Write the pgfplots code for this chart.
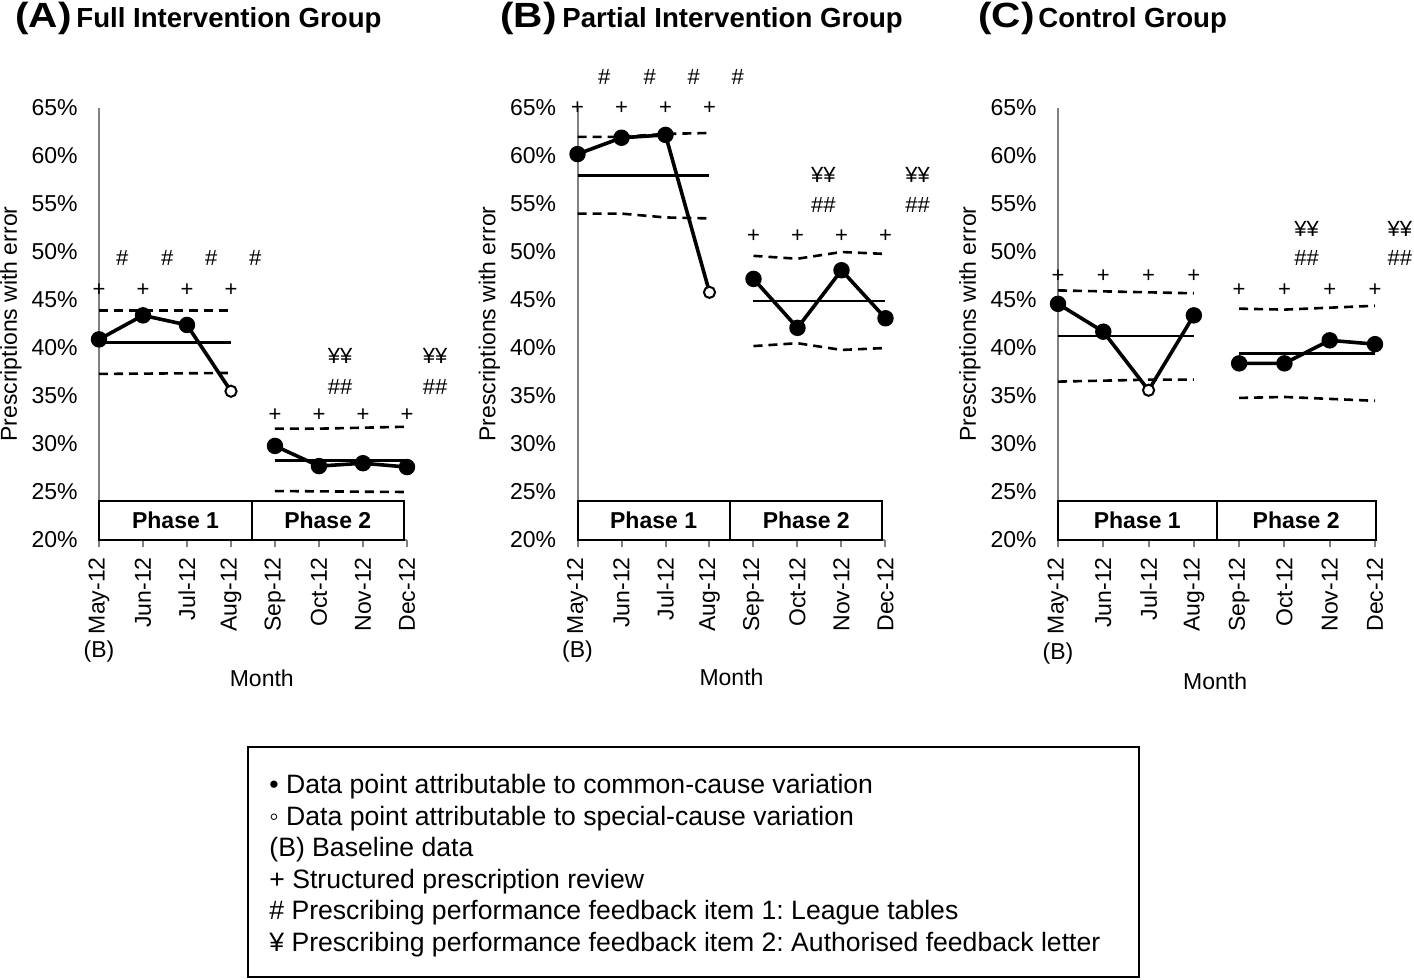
\documentclass[border=0pt]{standalone}
\usepackage{pgfplots}
\pgfplotsset{compat=1.18}
\usepackage{fontspec}
\setmainfont{Liberation Sans}
\usepackage{graphicx}
\frenchspacing

\newcommand{\fs}[1]{\fontsize{#1}{#1}\selectfont}

\pgfplotsset{
  spc/.style={
    scale only axis, width=154bp, height=216bp,
    xmin=0, xmax=7, ymin=20, ymax=65,
    clip=false,
    axis lines*=left,
    axis line style={-, draw=gray, line width=1bp},
    xtick={0,...,7},
    xticklabels={May-12,Jun-12,Jul-12,Aug-12,Sep-12,Oct-12,Nov-12,Dec-12},
    ytick={20,25,...,65},
    yticklabels={20\%,25\%,30\%,35\%,40\%,45\%,50\%,55\%,60\%,65\%},
    xtick align=outside, ytick align=inside,
    major tick length=3.5bp,
    xtick style={draw=gray, line width=1bp},
    ytick style={draw=none},
    xticklabel style={yshift=-5bp, rotate=90, anchor=east, inner sep=0pt, font=\fs{11.5bp}},
    yticklabel style={anchor=east, inner sep=0pt, xshift=-10.5bp, font=\fs{11.5bp}},
    ylabel={Prescriptions with error},
    ylabel style={at={(axis description cs:-0.2857,0.5)}, anchor=center, font=\fs{11.5bp}},
  },
  data/.style={black, line width=1.8bp, mark=*, mark size=3.2bp, mark options={solid, fill=black}},
  spec/.style={only marks, mark=*, mark size=2.8bp, mark options={solid, fill=white, draw=black, line width=1bp}},
  cl/.style={black, line width=1.3bp, no marks},
  lim/.style={black, line width=1.3bp, no marks, dash pattern=on 4.5bp off 3bp},
}
\tikzset{
  ann/.style={font=\fs{11bp}, inner sep=0pt, anchor=center},
  phs/.style={font=\fs{11.5bp}\bfseries, inner sep=0pt, anchor=center},
  txt/.style={font=\fs{11.5bp}, inner sep=0pt, anchor=center},
}

\begin{document}
\begin{tikzpicture}
\path[use as bounding box] (0,0) rectangle (707bp,-490bp);

% titles
\node[anchor=base west, inner sep=0pt] at (7.5bp,-13.5bp) {\scalebox{1.16}[1]{\fs{17.5bp}\bfseries (A)}};
\node[anchor=base west, inner sep=0pt] at (38bp,-13.5bp) {\fs{13.8bp}\bfseries Full Intervention Group};
\node[anchor=base west, inner sep=0pt] at (250bp,-13.5bp) {\scalebox{1.16}[1]{\fs{17.5bp}\bfseries (B)}};
\node[anchor=base west, inner sep=0pt] at (281bp,-13.5bp) {\fs{13.8bp}\bfseries Partial Intervention Group};
\node[anchor=base west, inner sep=0pt] at (489bp,-13.5bp) {\scalebox{1.16}[1]{\fs{17.5bp}\bfseries (C)}};
\node[anchor=base west, inner sep=0pt] at (519bp,-13.5bp) {\fs{13.8bp}\bfseries Control Group};

% (A) Full intervention
\begin{axis}[spc, at={(49.5bp,-270bp)}, anchor=south west]
\addplot[lim] coordinates {(0,43.9) (3,43.9)};
\addplot[lim] coordinates {(0,37.3) (3,37.4)};
\addplot[cl] coordinates {(0,40.6) (3,40.6)};
\addplot[data, mark indices={1,2,3}] coordinates {(0,40.9) (1,43.4) (2,42.4) (3,35.5)};
\addplot[spec] coordinates {(3,35.5)};
\addplot[lim] coordinates {(4,31.6) (5,31.6) (6,31.7) (7,31.8)};
\addplot[lim] coordinates {(4,25.1) (7,25.0)};
\addplot[cl] coordinates {(4,28.3) (7,28.3)};
\addplot[data] coordinates {(4,29.8) (5,27.7) (6,28.0) (7,27.6)};
\draw[line width=1bp, fill=white] (axis cs:0,20) rectangle (axis cs:3.48,24.1);
\draw[line width=1bp, fill=white] (axis cs:3.48,20) rectangle (axis cs:6.93,24.1);
\node[phs] at (axis cs:1.74,22.05) {Phase 1};
\node[phs] at (axis cs:5.2,22.05) {Phase 2};
\pgfplotsinvokeforeach{0,1,2,3}{\node[ann] at (axis cs:#1,46.0) {+};}
\pgfplotsinvokeforeach{0.53,1.55,2.55,3.55}{\node[ann] at (axis cs:#1,49.4) {\#};}
\pgfplotsinvokeforeach{4,5,6,7}{\node[ann] at (axis cs:#1,33.0) {+};}
\pgfplotsinvokeforeach{5.48,7.64}{\node[ann] at (axis cs:#1,35.9) {\#\#}; \node[ann] at (axis cs:#1,39.2) {¥¥};}
\node[txt] at (axis cs:0,8.33) {(B)};
\node[txt] at (axis cs:3.7,5.63) {Month};
\end{axis}

% (B) Partial intervention
\begin{axis}[spc, at={(288.75bp,-270bp)}, anchor=south west]
\addplot[lim] coordinates {(0,62.0) (1,62.0) (2,62.3) (3,62.4)};
\addplot[lim] coordinates {(0,54.0) (1,54.0) (2,53.6) (3,53.5)};
\addplot[cl] coordinates {(0,58.0) (3,58.0)};
\addplot[data, mark indices={1,2,3}] coordinates {(0,60.2) (1,61.9) (2,62.2) (3,45.8)};
\addplot[spec] coordinates {(3,45.8)};
\addplot[lim] coordinates {(4,49.6) (5,49.3) (6,50.0) (7,49.8)};
\addplot[lim] coordinates {(4,40.2) (5,40.5) (6,39.8) (7,40.0)};
\addplot[cl] coordinates {(4,44.9) (7,44.9)};
\addplot[data] coordinates {(4,47.2) (5,42.1) (6,48.1) (7,43.1)};
\draw[line width=1bp, fill=white] (axis cs:0,20) rectangle (axis cs:3.46,24.1);
\draw[line width=1bp, fill=white] (axis cs:3.46,20) rectangle (axis cs:6.93,24.1);
\node[phs] at (axis cs:1.73,22.05) {Phase 1};
\node[phs] at (axis cs:5.2,22.05) {Phase 2};
\pgfplotsinvokeforeach{0,1,2,3}{\node[ann] at (axis cs:#1,65.0) {+};}
\pgfplotsinvokeforeach{0.61,1.64,2.64,3.64}{\node[ann] at (axis cs:#1,68.2) {\#};}
\pgfplotsinvokeforeach{4,5,6,7}{\node[ann] at (axis cs:#1,51.6) {+};}
\pgfplotsinvokeforeach{5.59,7.73}{\node[ann] at (axis cs:#1,54.9) {\#\#}; \node[ann] at (axis cs:#1,58.0) {¥¥};}
\node[txt] at (axis cs:0,8.4) {(B)};
\node[txt] at (axis cs:3.5,5.67) {Month};
\end{axis}

% (C) Control
\begin{axis}[spc, width=158.5bp, at={(529bp,-270bp)}, anchor=south west,
  ylabel style={at={(axis description cs:-0.2776,0.5)}}]
\addplot[lim] coordinates {(0,46.0) (1,45.9) (2,45.8) (3,45.7)};
\addplot[lim] coordinates {(0,36.5) (1,36.6) (2,36.7) (3,36.7)};
\addplot[cl] coordinates {(0,41.25) (3,41.25)};
\addplot[data, mark indices={1,2,4}] coordinates {(0,44.6) (1,41.7) (2,35.6) (3,43.4)};
\addplot[spec] coordinates {(2,35.6)};
\addplot[lim] coordinates {(4,44.1) (5,44.0) (6,44.2) (7,44.4)};
\addplot[lim] coordinates {(4,34.8) (5,34.9) (6,34.7) (7,34.5)};
\addplot[cl] coordinates {(4,39.4) (7,39.4)};
\addplot[data] coordinates {(4,38.4) (5,38.4) (6,40.8) (7,40.4)};
\draw[line width=1bp, fill=white] (axis cs:0,20) rectangle (axis cs:3.5,24.1);
\draw[line width=1bp, fill=white] (axis cs:3.5,20) rectangle (axis cs:7.02,24.1);
\node[phs] at (axis cs:1.75,22.05) {Phase 1};
\node[phs] at (axis cs:5.26,22.05) {Phase 2};
\pgfplotsinvokeforeach{0,1,2,3}{\node[ann] at (axis cs:#1,47.5) {+};}
\pgfplotsinvokeforeach{4,5,6,7}{\node[ann] at (axis cs:#1,46.0) {+};}
\pgfplotsinvokeforeach{5.49,7.55}{\node[ann] at (axis cs:#1,49.4) {\#\#}; \node[ann] at (axis cs:#1,52.4) {¥¥};}
\node[txt] at (axis cs:0,8.2) {(B)};
\node[txt] at (axis cs:3.47,5.24) {Month};
\end{axis}

% key
\draw[line width=1bp] (124bp,-373.5bp) rectangle (569.5bp,-488.5bp);
\begin{scope}[every node/.style={anchor=base west, inner sep=0pt, font=\fs{13.3bp}}]
\node at (134.5bp,-396.75bp) {• Data point attributable to common-cause variation};
\node at (134.5bp,-412.5bp) {◦ Data point attributable to special-cause variation};
\node at (134.5bp,-428.25bp) {(B) Baseline data};
\node at (134.5bp,-444bp) {+ Structured prescription review};
\node at (134.5bp,-459.75bp) {\# Prescribing performance feedback item 1: League tables};
\node at (134.5bp,-475.5bp) {¥ Prescribing performance feedback item 2: Authorised feedback letter};
\end{scope}
\end{tikzpicture}
\end{document}
